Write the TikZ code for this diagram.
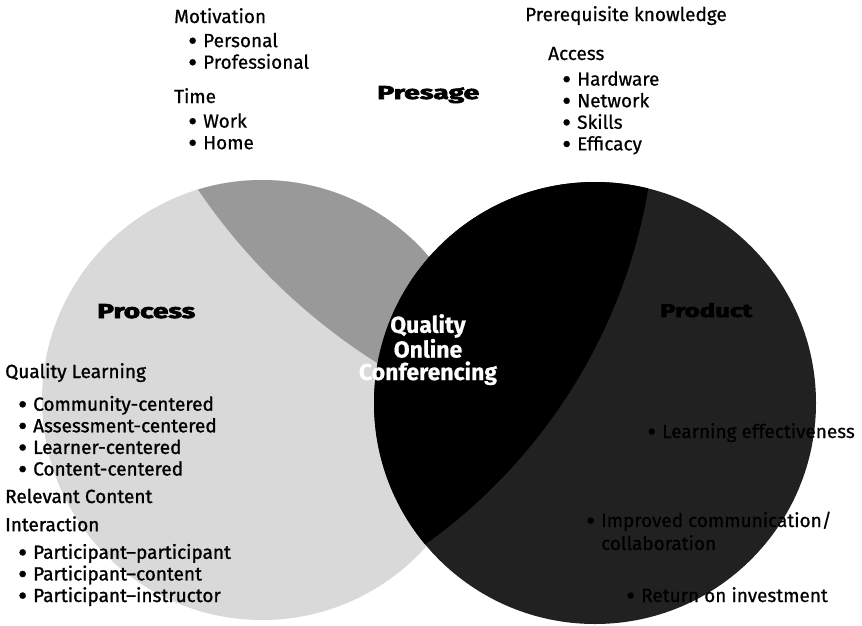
\documentclass[tikz,border=0pt]{standalone}
\usepackage{fontspec}
\usepackage{graphicx}
\setmainfont{Fira Sans}[FakeBold=0.6]
\newfontfamily\heavyfont{Fira Sans}[FakeBold=3]
\newfontfamily\listfont{Fira Sans}[FakeBold=1.2]
\newcommand\mybul{\makebox[15pt][l]{\raisebox{-3pt}{\scalebox{1.45}{\textbullet}}}}
\newcommand\ind{\hspace*{14pt}}
\definecolor{procfill}{gray}{0.85}
\definecolor{procdark}{gray}{0.60}
\definecolor{prodfill}{gray}{0.13}
\tikzset{
  % multi-line nodes: base anchor = baseline of the LAST line
  txt/.style={anchor=base west, inner sep=0pt, align=left, font=\fontsize{19pt}{21.6pt}\selectfont},
  ltxt/.style={txt, font=\listfont\fontsize{19pt}{21.6pt}\selectfont},
  rtxt/.style={txt, text=black},
  ctr/.style={anchor=base, inner sep=0pt, align=center, text=white, font=\bfseries\fontsize{23pt}{22.5pt}\selectfont},
  head/.style={anchor=base west, inner sep=0pt}
}
\begin{document}
\begin{tikzpicture}[x=1pt,y=-1pt]
\fill[white] (0,0) rectangle (862,625);
\useasboundingbox (0,0) rectangle (862,625);
% Process circle
\fill[procfill] (262,400) circle[radius=220pt];
\begin{scope}
  \clip (262,400) circle[radius=220pt];
  \fill[procdark] (700,-150) circle[radius=606pt];
\end{scope}
% Product circle
\fill[prodfill] (595,403) circle[radius=221pt];
\begin{scope}
  \clip (595,403) circle[radius=221pt];
  \fill[black] (105,96) circle[radius=551pt];
\end{scope}
% Presage texts
\node[txt] (mot) at (174,68.7) {Motivation\\[2.5pt]\ind\mybul Personal\\\ind\mybul Professional};
\node[txt] (time) at (174,149.2) {Time\\[3pt]\ind\mybul Work\\\ind\mybul Home};
\node[txt] (prer) at (525,21) {Prerequisite knowledge};
\node[txt] (acc) at (548,150.4) {Access\\[4pt]\ind\mybul Hardware\\\ind\mybul Network\\\ind\mybul Skills\\\ind\mybul Efficacy};
\node[head] (presage) at (377,99) {\resizebox{102pt}{13pt}{\heavyfont\bfseries Presage}};
% Process texts
\node[head] (process) at (97,318) {\resizebox{98pt}{14pt}{\heavyfont\bfseries Process}};
\node[ltxt] (ql) at (5,378) {Quality Learning};
\node[ltxt] (cc) at (18,475.5) {\mybul Community-centered\\\mybul Assessment-centered\\\mybul Learner-centered\\\mybul Content-centered};
\node[ltxt] (rc) at (5,503) {Relevant Content};
\node[ltxt] (int) at (5,602) {Interaction\\[6pt]\hspace*{13pt}\mybul Participant–participant\\\hspace*{13pt}\mybul Participant–content\\\hspace*{13pt}\mybul Participant–instructor};
% Product texts
\node[head] (product) at (660,317) {\resizebox{92pt}{14pt}{\heavyfont\bfseries Product}};
\node[rtxt, anchor=base east] (le) at (855,438) {\mybul Learning effectiveness};
\node[rtxt, font=\fontsize{19pt}{23pt}\selectfont] (comm) at (586,550) {\mybul Improved communication/\\\hspace*{15pt}collaboration};
\node[rtxt] (roi) at (626,602) {\mybul Return on investment};
% Centre
\node[ctr] (qoc) at (428,380) {Quality\\Online\\Conferencing};
\end{tikzpicture}
\end{document}
